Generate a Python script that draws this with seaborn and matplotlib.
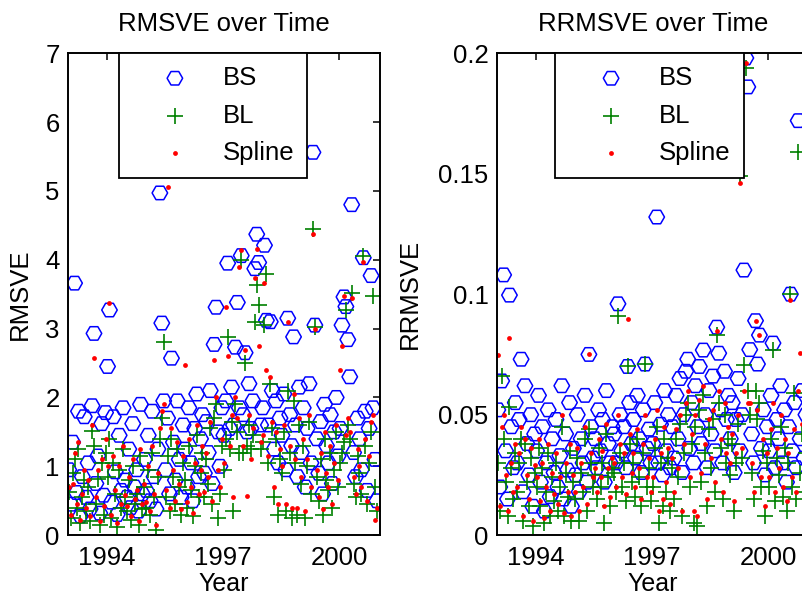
import matplotlib
matplotlib.use("Agg")
import matplotlib.pyplot as plt
import seaborn as sns
import pandas as pd

# sample dates (decimal years)
years = [
    1993.02, 1993.07, 1993.12, 1993.17, 1993.22, 1993.27, 1993.32, 1993.37, 1993.42, 1993.47,
    1993.52, 1993.57, 1993.62, 1993.67, 1993.72, 1993.77, 1993.82, 1993.87, 1993.92, 1993.97,
    1994.02, 1994.07, 1994.12, 1994.17, 1994.22, 1994.27, 1994.32, 1994.37, 1994.42, 1994.47,
    1994.52, 1994.57, 1994.62, 1994.67, 1994.72, 1994.77, 1994.82, 1994.87, 1994.92, 1994.97,
    1995.02, 1995.07, 1995.12, 1995.17, 1995.22, 1995.27, 1995.32, 1995.37, 1995.42, 1995.47,
    1995.52, 1995.57, 1995.62, 1995.67, 1995.72, 1995.77, 1995.82, 1995.87, 1995.92, 1995.97,
    1996.02, 1996.07, 1996.12, 1996.17, 1996.22, 1996.27, 1996.32, 1996.37, 1996.42, 1996.47,
    1996.52, 1996.57, 1996.62, 1996.67, 1996.72, 1996.77, 1996.82, 1996.87, 1996.92, 1996.97,
    1997.02, 1997.07, 1997.12, 1997.17, 1997.22, 1997.27, 1997.32, 1997.37, 1997.42, 1997.47,
    1997.52, 1997.57, 1997.62, 1997.67, 1997.72, 1997.77, 1997.82, 1997.87, 1997.92, 1997.97,
    1998.02, 1998.07, 1998.12, 1998.17, 1998.22, 1998.27, 1998.32, 1998.37, 1998.42, 1998.47,
    1998.52, 1998.57, 1998.62, 1998.67, 1998.72, 1998.77, 1998.82, 1998.87, 1998.92, 1998.97,
    1999.02, 1999.07, 1999.12, 1999.17, 1999.22, 1999.27, 1999.32, 1999.37, 1999.42, 1999.47,
    1999.52, 1999.57, 1999.62, 1999.67, 1999.72, 1999.77, 1999.82, 1999.87, 1999.92, 1999.97,
    2000.02, 2000.07, 2000.12, 2000.17, 2000.22, 2000.27, 2000.32, 2000.37, 2000.42, 2000.47,
    2000.52, 2000.57, 2000.62, 2000.67, 2000.72, 2000.77, 2000.82, 2000.87, 2000.92, 2000.97,
]

# RMSVE
rmsve_bs = [
    0.95, 0.45, 1.35, 3.66, 0.62, 1.80, 0.28, 0.85, 1.72, 0.55,
    1.05, 0.38, 1.88, 2.93, 0.75, 1.15, 0.32, 1.62, 0.58, 1.78,
    2.45, 3.27, 0.48, 1.72, 0.92, 0.30, 1.45, 0.65, 1.85, 0.80,
    0.55, 1.25, 0.40, 1.62, 0.70, 0.95, 0.35, 1.90, 0.60, 1.10,
    0.65, 1.45, 0.50, 1.80, 0.85, 0.38, 1.25, 4.97, 3.08, 1.95,
    0.95, 1.70, 0.60, 2.57, 1.35, 0.80, 1.95, 1.10, 0.55, 1.60,
    1.25, 0.70, 1.85, 1.05, 0.50, 1.55, 2.05, 0.85, 1.40, 1.75,
    0.90, 1.65, 1.20, 2.10, 0.75, 2.77, 3.31, 1.50, 1.00, 1.85,
    1.45, 1.95, 3.95, 1.55, 2.15, 1.60, 2.73, 3.38, 1.85, 4.06,
    1.75, 2.65, 1.50, 2.20, 1.55, 1.95, 3.87, 4.37, 3.96, 1.60,
    1.85, 4.21, 3.12, 1.60, 3.10, 2.10, 1.25, 1.95, 1.05, 1.70,
    1.45, 2.05, 0.95, 3.15, 1.75, 1.30, 2.88, 1.60, 0.85, 2.15,
    1.20, 1.85, 0.70, 1.55, 2.20, 1.05, 5.56, 3.05, 1.40, 0.90,
    1.65, 0.60, 1.90, 1.30, 1.05, 1.75, 0.75, 1.50, 2.00, 1.15,
    1.55, 3.05, 3.46, 3.32, 2.84, 2.30, 4.80, 1.20, 0.85, 1.70,
    1.40, 0.95, 4.03, 1.80, 0.65, 1.55, 3.77, 1.85, 1.10, 0.50,
]
rmsve_bl = [
    0.62, 0.25, 0.90, 1.10, 0.40, 1.25, 0.18, 0.55, 0.80, 0.35,
    0.70, 0.20, 1.52, 1.30, 0.45, 0.82, 0.15, 1.05, 0.30, 1.20,
    0.85, 1.40, 0.25, 1.05, 0.60, 0.12, 0.95, 0.40, 1.25, 0.55,
    0.35, 0.80, 0.22, 1.00, 0.45, 0.60, 0.15, 1.15, 0.38, 0.70,
    0.40, 0.95, 0.30, 1.20, 0.55, 0.08, 0.85, 1.40, 1.70, 2.80,
    0.55, 1.15, 0.35, 1.40, 0.85, 0.45, 1.25, 0.70, 0.30, 1.05,
    0.80, 0.40, 1.30, 0.65, 0.28, 1.00, 1.45, 0.55, 0.90, 1.20,
    0.55, 1.10, 0.75, 1.55, 0.45, 1.70, 1.90, 0.25, 0.60, 1.30,
    0.95, 1.40, 2.88, 1.25, 1.65, 0.35, 1.90, 1.50, 1.20, 4.00,
    1.20, 2.50, 1.30, 1.60, 1.25, 1.45, 3.09, 3.63, 3.34, 1.25,
    1.35, 3.05, 3.80, 1.05, 2.20, 1.55, 0.55, 1.40, 0.30, 1.10,
    0.90, 1.50, 0.35, 2.10, 1.20, 0.25, 1.95, 1.05, 0.30, 1.60,
    0.75, 1.30, 0.25, 1.00, 1.65, 0.60, 4.44, 3.02, 0.85, 0.50,
    1.10, 0.30, 1.40, 0.80, 0.65, 1.20, 0.40, 0.95, 1.50, 0.70,
    1.05, 1.20, 1.35, 3.27, 1.60, 1.40, 3.51, 0.75, 0.55, 1.15,
    0.90, 0.60, 4.06, 1.30, 0.45, 1.05, 1.50, 3.48, 0.70, 0.35,
]
rmsve_sp = [
    0.70, 0.30, 0.75, 1.20, 0.45, 1.35, 0.22, 0.60, 0.95, 0.40,
    0.80, 0.28, 1.60, 2.58, 0.55, 0.95, 0.20, 1.10, 0.42, 1.40,
    1.00, 3.37, 0.30, 1.15, 0.65, 0.18, 1.00, 0.45, 1.30, 0.58,
    0.42, 0.85, 0.28, 1.10, 0.52, 0.65, 0.20, 1.25, 0.45, 0.75,
    0.48, 1.00, 0.35, 1.30, 0.60, 0.15, 0.90, 1.55, 1.80, 1.90,
    0.65, 5.05, 0.40, 1.55, 0.95, 0.50, 1.35, 0.75, 0.38, 1.15,
    2.47, 0.48, 1.40, 0.70, 0.32, 1.05, 1.60, 0.60, 0.95, 1.30,
    0.62, 1.20, 0.85, 1.65, 0.50, 2.55, 2.00, 0.95, 0.70, 1.40,
    1.05, 3.31, 2.60, 1.30, 1.75, 0.55, 2.00, 1.70, 3.90, 4.14,
    1.30, 2.69, 0.57, 1.75, 1.10, 1.55, 3.74, 4.16, 2.75, 1.35,
    1.45, 3.66, 2.40, 1.15, 2.30, 1.65, 0.70, 1.50, 0.45, 1.25,
    1.00, 1.60, 0.45, 3.10, 1.30, 0.40, 2.05, 1.10, 0.40, 1.70,
    0.85, 1.40, 0.35, 1.10, 1.75, 0.70, 4.37, 3.00, 0.95, 0.55,
    1.20, 0.38, 1.50, 0.90, 0.70, 1.30, 0.45, 1.05, 1.60, 0.80,
    2.40, 2.75, 3.48, 1.45, 1.70, 1.50, 3.45, 0.85, 0.60, 1.25,
    1.00, 0.70, 3.96, 1.40, 0.50, 1.15, 1.65, 1.75, 0.22, 0.40,
]

# RRMSVE
rrmsve_bs = [
    0.052, 0.020, 0.064, 0.108, 0.035, 0.015, 0.0996, 0.045, 0.028, 0.055,
    0.030, 0.048, 0.073, 0.018, 0.062, 0.038, 0.025, 0.050, 0.012, 0.042,
    0.035, 0.058, 0.022, 0.045, 0.010, 0.030, 0.052, 0.016, 0.040, 0.026,
    0.048, 0.020, 0.033, 0.062, 0.015, 0.042, 0.027, 0.055, 0.012, 0.036,
    0.025, 0.050, 0.018, 0.040, 0.030, 0.058, 0.022, 0.075, 0.045, 0.032,
    0.040, 0.028, 0.052, 0.035, 0.048, 0.022, 0.060, 0.038, 0.030, 0.045,
    0.042, 0.030, 0.096, 0.050, 0.035, 0.045, 0.028, 0.070, 0.055, 0.038,
    0.048, 0.032, 0.058, 0.040, 0.026, 0.052, 0.071, 0.036, 0.044, 0.030,
    0.038, 0.055, 0.132, 0.030, 0.046, 0.025, 0.060, 0.035, 0.050, 0.028,
    0.045, 0.032, 0.058, 0.040, 0.065, 0.026, 0.050, 0.068, 0.073, 0.036,
    0.055, 0.030, 0.062, 0.045, 0.070, 0.038, 0.0768, 0.050, 0.028, 0.060,
    0.042, 0.066, 0.035, 0.0863, 0.0755, 0.052, 0.030, 0.068, 0.048, 0.058,
    0.040, 0.055, 0.026, 0.048, 0.065, 0.035, 0.050, 0.110, 0.198, 0.186,
    0.077, 0.042, 0.030, 0.089, 0.071, 0.083, 0.036, 0.052, 0.025, 0.045,
    0.035, 0.058, 0.0797, 0.028, 0.048, 0.040, 0.062, 0.030, 0.052, 0.022,
    0.045, 0.100, 0.035, 0.055, 0.028, 0.172, 0.040, 0.060, 0.032, 0.050,
]
rrmsve_bl = [
    0.030, 0.010, 0.066, 0.040, 0.022, 0.008, 0.053, 0.028, 0.015, 0.034,
    0.018, 0.030, 0.040, 0.006, 0.038, 0.022, 0.012, 0.032, 0.004, 0.026,
    0.020, 0.036, 0.012, 0.028, 0.005, 0.018, 0.034, 0.008, 0.024, 0.014,
    0.030, 0.010, 0.020, 0.045, 0.008, 0.026, 0.016, 0.035, 0.006, 0.022,
    0.015, 0.032, 0.006, 0.026, 0.018, 0.040, 0.010, 0.044, 0.030, 0.020,
    0.025, 0.015, 0.036, 0.020, 0.030, 0.005, 0.042, 0.024, 0.012, 0.028,
    0.026, 0.018, 0.091, 0.034, 0.020, 0.030, 0.014, 0.070, 0.038, 0.022,
    0.030, 0.016, 0.040, 0.024, 0.012, 0.034, 0.071, 0.020, 0.028, 0.014,
    0.020, 0.036, 0.045, 0.005, 0.030, 0.012, 0.040, 0.018, 0.032, 0.010,
    0.028, 0.015, 0.040, 0.024, 0.046, 0.008, 0.034, 0.050, 0.055, 0.020,
    0.038, 0.005, 0.045, 0.004, 0.052, 0.022, 0.058, 0.034, 0.012, 0.044,
    0.028, 0.048, 0.018, 0.083, 0.055, 0.036, 0.015, 0.050, 0.030, 0.040,
    0.025, 0.038, 0.010, 0.030, 0.046, 0.149, 0.032, 0.0705, 0.194, 0.060,
    0.050, 0.026, 0.015, 0.060, 0.048, 0.055, 0.020, 0.035, 0.008, 0.030,
    0.020, 0.040, 0.0768, 0.014, 0.032, 0.025, 0.045, 0.016, 0.036, 0.010,
    0.030, 0.100, 0.020, 0.059, 0.015, 0.159, 0.026, 0.042, 0.018, 0.034,
]
rrmsve_sp = [
    0.0747, 0.012, 0.045, 0.050, 0.025, 0.010, 0.082, 0.030, 0.018, 0.038,
    0.020, 0.034, 0.045, 0.008, 0.040, 0.025, 0.015, 0.036, 0.006, 0.029,
    0.024, 0.040, 0.014, 0.030, 0.007, 0.020, 0.038, 0.010, 0.026, 0.017,
    0.034, 0.013, 0.024, 0.050, 0.009, 0.030, 0.018, 0.038, 0.008, 0.025,
    0.018, 0.036, 0.010, 0.030, 0.020, 0.045, 0.013, 0.075, 0.034, 0.024,
    0.028, 0.018, 0.040, 0.024, 0.035, 0.012, 0.046, 0.028, 0.016, 0.032,
    0.030, 0.020, 0.050, 0.038, 0.024, 0.034, 0.017, 0.0896, 0.042, 0.026,
    0.034, 0.020, 0.044, 0.028, 0.015, 0.038, 0.050, 0.024, 0.032, 0.018,
    0.024, 0.040, 0.052, 0.010, 0.034, 0.015, 0.045, 0.022, 0.036, 0.013,
    0.032, 0.018, 0.044, 0.028, 0.050, 0.010, 0.038, 0.055, 0.060, 0.024,
    0.042, 0.010, 0.050, 0.008, 0.056, 0.026, 0.062, 0.038, 0.015, 0.048,
    0.032, 0.052, 0.022, 0.0846, 0.060, 0.040, 0.018, 0.055, 0.034, 0.045,
    0.030, 0.042, 0.014, 0.034, 0.050, 0.146, 0.036, 0.060, 0.196, 0.055,
    0.055, 0.030, 0.018, 0.089, 0.052, 0.083, 0.024, 0.040, 0.012, 0.034,
    0.024, 0.044, 0.055, 0.018, 0.036, 0.028, 0.050, 0.020, 0.040, 0.014,
    0.034, 0.0975, 0.024, 0.044, 0.018, 0.060, 0.0755, 0.046, 0.022, 0.038,
]

x_ticks = [1994, 1997, 2000]
rmsve_ticks = [0, 1, 2, 3, 4, 5, 6, 7]
rrmsve_ticks = [0, 0.05, 0.1, 0.15, 0.2]
rrmsve_ticklabels = ["0", "0.05", "0.1", "0.15", "0.2"]

sns.set_style("white")
plt.rcParams["font.family"] = ["Liberation Sans", "DejaVu Sans"]
plt.rcParams["axes.edgecolor"] = "black"
plt.rcParams["axes.linewidth"] = 1.4
plt.rcParams["text.color"] = "black"
plt.rcParams["axes.labelcolor"] = "black"
plt.rcParams["xtick.color"] = "black"
plt.rcParams["ytick.color"] = "black"

FS = 18.5


def draw_panel(ax, bs, bl, sp, title, ylabel, ylim, yticks, yticklabels, leg_x, ylab_x):
    df = pd.DataFrame({"Year": years, "BS": bs, "BL": bl, "Spline": sp})
    sns.scatterplot(data=df, x="Year", y="BS", ax=ax, marker="H", s=125,
                    color="blue", facecolors="none", edgecolor="blue",
                    linewidth=1.1, label="BS")
    sns.scatterplot(data=df, x="Year", y="BL", ax=ax, marker="+", s=140,
                    color="#008000", linewidth=1.2, label="BL")
    sns.scatterplot(data=df, x="Year", y="Spline", ax=ax, marker="o", s=12,
                    color="red", linewidth=0, label="Spline")

    ax.set_xlim(1993.0, 2001.05)
    ax.set_ylim(*ylim)
    ax.set_xticks(x_ticks)
    ax.set_xticklabels([str(t) for t in x_ticks])
    ax.set_yticks(yticks)
    ax.set_yticklabels(yticklabels)
    ax.tick_params(direction="in", length=5, width=1.1, top=True, right=True,
                   labelsize=FS, colors="black")
    ax.tick_params(axis="x", pad=7.5)
    ax.tick_params(axis="y", pad=6)
    for sp_ in ax.spines.values():
        sp_.set_visible(True)
        sp_.set_color("black")

    ax.set_title(title, fontsize=FS, pad=16, color="black")
    ax.set_xlabel("Year", fontsize=18)
    ax.set_ylabel(ylabel, fontsize=FS)
    ax.xaxis.set_label_coords(0.5, -0.076)
    ax.yaxis.set_label_coords(ylab_x, 0.5)

    leg = ax.legend(loc="upper left", bbox_to_anchor=(leg_x, 1.0), borderaxespad=0,
                    fontsize=FS, frameon=True, fancybox=False, framealpha=1,
                    edgecolor="black", handlelength=3.36, handletextpad=0.19,
                    borderpad=0.5, labelspacing=0.53, scatterpoints=1)
    leg.get_frame().set_linewidth(1.3)


fig = plt.figure(figsize=(8.03, 6.02), dpi=100)
ax1 = fig.add_axes([0.0847, 0.111, 0.3885, 0.8007])
ax2 = fig.add_axes([0.619, 0.111, 0.3885, 0.8007])

draw_panel(ax1, rmsve_bs, rmsve_bl, rmsve_sp, "RMSVE over Time", "RMSVE",
           (0, 7), rmsve_ticks, [str(t) for t in rmsve_ticks], 0.163, -0.115)
draw_panel(ax2, rrmsve_bs, rrmsve_bl, rrmsve_sp, "RRMSVE over Time", "RRMSVE",
           (0, 0.2), rrmsve_ticks, rrmsve_ticklabels, 0.186, -0.24)

fig.savefig("out.png", dpi=100)
